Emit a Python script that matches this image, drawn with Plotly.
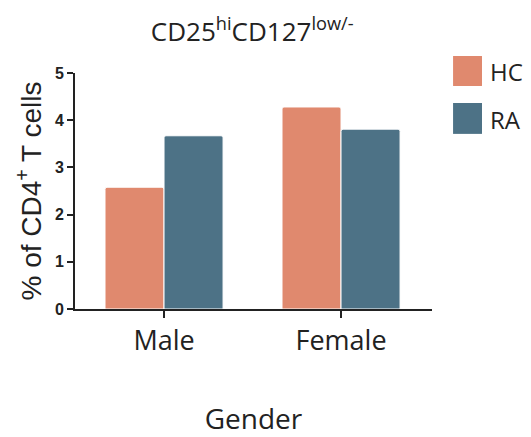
import plotly.graph_objects as go

categories = ["Male", "Female"]
series_names = ["HC", "RA"]
hc_values = [2.58, 4.28]
ra_values = [3.67, 3.81]
y_ticks = [0, 1, 2, 3, 4, 5]

colors = {"HC": "#E0896E", "RA": "#4D7286"}
TXT = "#222222"

fig = go.Figure()
for name, vals in zip(series_names, [hc_values, ra_values]):
    fig.add_trace(go.Bar(
        x=categories, y=vals, name=name,
        marker=dict(color=colors[name], line=dict(color="white", width=1), cornerradius=2),
        showlegend=False,
    ))

# legend drawn as shapes + text (paper coords)
leg = [(1.072, 0.945, 1.008), (0.873, 0.742, 0.805)]
for name, (top, bot, ty) in zip(series_names, leg):
    fig.add_shape(type="rect", xref="paper", yref="paper",
                  x0=1.059, x1=1.140, y0=bot, y1=top,
                  fillcolor=colors[name], line=dict(width=0), layer="above")
    fig.add_annotation(text=name, xref="paper", yref="paper", x=1.158, y=ty,
                       xanchor="left", yanchor="middle", showarrow=False,
                       font=dict(family="Open Sans", size=24, color=TXT))

fig.update_layout(
    width=523, height=429,
    margin=dict(l=67, r=99, t=65, b=128),
    paper_bgcolor="white", plot_bgcolor="white",
    barmode="group", bargap=0.333, bargroupgap=0,
    title=dict(text="CD25<sup>hi</sup>CD127<sup>low/-</sup>", x=0.467, xanchor="center",
               xref="container", y=0.944, yanchor="middle", yref="container",
               font=dict(family="Open Sans", size=26, color=TXT)),
)
fig.update_xaxes(
    range=[-0.503, 1.514], showline=True, linecolor=TXT, linewidth=2,
    ticks="outside", ticklen=7, tickwidth=2, tickcolor=TXT,
    tickfont=dict(family="Open Sans", size=27, color=TXT),
    title=dict(text="Gender", font=dict(family="Open Sans", size=28, color=TXT), standoff=52),
    showgrid=False, zeroline=False, automargin=False,
)
fig.update_yaxes(
    range=[0, 5], tickvals=y_ticks, showline=True, linecolor=TXT, linewidth=2,
    ticks="outside", ticklen=6, tickwidth=2, tickcolor=TXT,
    tickfont=dict(family="Liberation Sans", size=16, color=TXT, weight="bold"),
    title=dict(text="% of CD4<sup>+</sup> T cells", font=dict(family="Liberation Sans", size=28, color=TXT), standoff=5),
    showgrid=False, zeroline=False, automargin=False,
)

fig.write_html("out.html")
